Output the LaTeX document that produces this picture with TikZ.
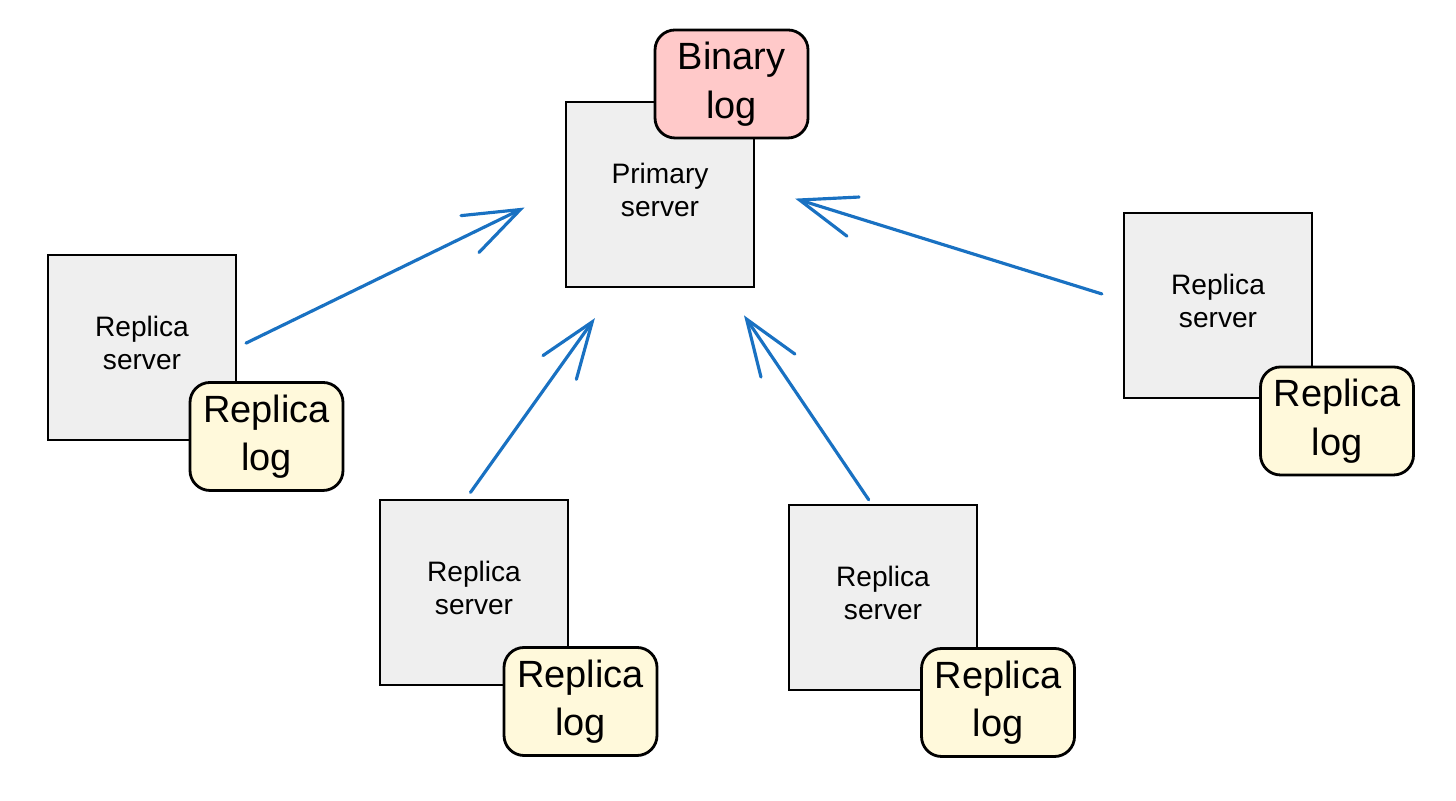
\documentclass[tikz,border=0pt]{standalone}
\usepackage{fontspec}
\setmainfont{Liberation Sans}
\usetikzlibrary{arrows.meta}
\definecolor{servergray}{HTML}{EFEFEF}
\definecolor{logyellow}{HTML}{FFF9DB}
\definecolor{logpink}{HTML}{FFC9C9}
\definecolor{arrowblue}{HTML}{1971C2}
\tikzset{
  server/.style={draw=black, line width=0.6pt, fill=servergray, minimum width=1.88cm,
    minimum height=1.85cm, align=center, inner sep=0pt, text depth=0.1cm,
    font=\fontsize{8}{9.4}\selectfont},
  logbox/.style={draw=black, line width=0.8pt, rounded corners=0.2cm, minimum width=1.53cm,
    minimum height=1.08cm, align=center, inner sep=0pt, font=\fontsize{10.8}{13.8}\selectfont},
  replog/.style={logbox, fill=logyellow},
  binlog/.style={logbox, fill=logpink},
  pull/.style={draw=arrowblue, line width=0.9pt, line cap=round,
    -{Straight Barb[length=5.6mm, width=4.1mm, line cap=round]}}
}

\begin{document}
\begin{tikzpicture}
    \useasboundingbox (0, 0) rectangle (14.56, 8.01);

    \node [server] (prim) at (6.60, 6.065) {Primary\\server};
    \node [binlog] (binlog) at (7.315, 7.17) {Binary\\log};

    \node [server] (lrep) at (1.42, 4.535) {Replica\\server};
    \node [replog] (llog) at (2.665, 3.645) {Replica\\log};

    \node [server] (blrep) at (4.74, 2.085) {Replica\\server};
    \node [replog] (bllog) at (5.805, 0.995) {Replica\\log};

    \node [server] (brrep) at (8.83, 2.035) {Replica\\server};
    \node [replog] (brlog) at (9.98, 0.985) {Replica\\log};

    \node [server] (rrep) at (12.18, 4.955) {Replica\\server};
    \node [replog] (rlog) at (13.37, 3.80) {Replica\\log};

    \draw [pull, shorten <=0.1cm, shorten >=0.45cm] (lrep.east) -- (prim.176);
    \draw [pull, shorten <=0.08cm, shorten >=0.37cm] (blrep.95) -- (prim.245);
    \draw [pull, shorten <=0.05cm, shorten >=0.33cm] (brrep.97) -- (prim.305);
    \draw [pull, shorten <=0.22cm, shorten >=0.42cm] (rrep.177) -- (prim.5);
\end{tikzpicture}
\end{document}
